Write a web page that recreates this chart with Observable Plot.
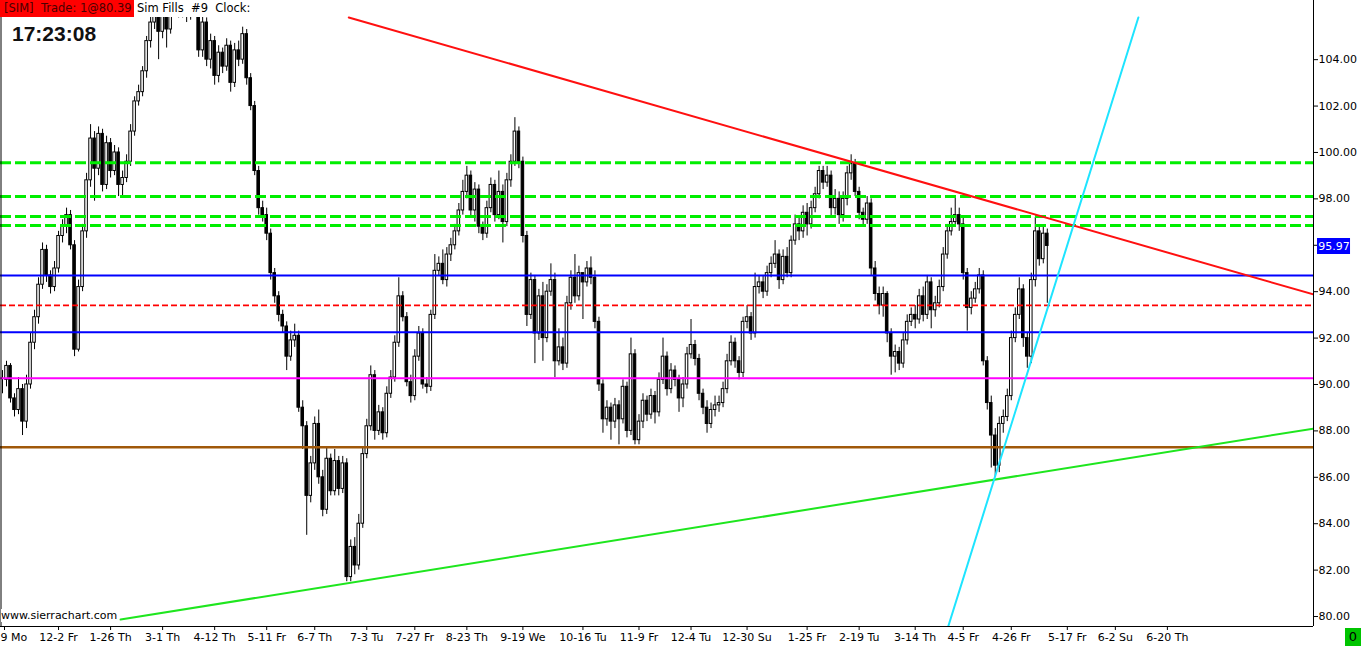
<!DOCTYPE html>
<html>
<head>
<meta charset="utf-8">
<script src="https://cdn.jsdelivr.net/npm/d3@7"></script>
<script src="https://cdn.jsdelivr.net/npm/@observablehq/plot@0.6"></script>
<style>
  body { margin: 0; background: white; overflow: hidden; }
  #wrap { position: relative; width: 1362px; height: 647px; font-family: "DejaVu Sans", sans-serif; }
  #chart svg { display: block; }
  .hdr { position: absolute; top: 0; height: 17px; line-height: 17px; font-size: 11.5px; white-space: pre; box-sizing: border-box; }
</style>
</head>
<body>
<div id="wrap">
  <div id="chart"></div>
  <div class="hdr" style="left:0;width:134px;background:#ff0000;color:#4a0000;padding-left:4px">[SIM]  Trade: 1@80.39</div>
  <div class="hdr" style="left:134px;width:116px;background:white;color:#000;padding-left:3px">Sim Fills  #9  Clock:</div>
  <div style="position:absolute;left:12px;top:22px;font:bold 21px 'Liberation Sans', Arial, sans-serif;color:#111">17:23:08</div>
  <div style="position:absolute;left:1px;top:609px;font-size:11px;background:white;color:#000;padding-right:2px">www.sierrachart.com</div>
  <div style="position:absolute;left:1345px;top:628px;width:16px;height:18px;line-height:18px;text-align:center;background:#00c400;color:#000;font-size:13px">0</div>
</div>
<script>
// one value per bar: close, high, low (open = previous close)
const closes = [
  90.2, 90.8, 89.4, 88.9, 89.8, 88.4, 90.0, 91.8, 92.9, 94.3,
  95.8, 94.7, 94.2, 95.0, 96.4, 96.8, 97.3, 96.0, 91.5, 94.2,
  96.6, 98.8, 100.6, 99.3, 100.8, 98.6, 100.4, 99.2, 100.0, 98.6,
  98.9, 99.6, 100.9, 102.2, 102.6, 103.5, 104.8, 105.6, 106.3, 105.2,
  105.9, 105.3, 106.2, 106.8, 106.0, 106.9, 105.9, 106.8, 106.2, 104.4,
  105.6, 104.0, 104.8, 103.3, 104.3, 103.7, 104.6, 103.0, 104.4, 104.0,
  105.1, 103.2, 102.0, 99.2, 97.6, 97.3, 96.5, 94.8, 93.8, 93.0,
  92.5, 91.2, 91.9, 92.1, 89.0, 88.2, 85.2, 86.6, 88.3, 86.0,
  84.6, 86.8, 85.4, 86.7, 85.5, 86.6, 81.7, 83.0, 82.2, 84.0,
  87.0, 88.2, 90.4, 88.0, 88.8, 87.9, 89.6, 90.3, 91.8, 93.8,
  92.9, 90.1, 89.5, 91.2, 92.2, 90.0, 89.9, 93.0, 94.9, 95.2,
  94.5, 95.6, 96.0, 96.6, 97.5, 98.3, 99.0, 97.5, 98.4, 96.8,
  96.5, 97.6, 98.6, 97.3, 98.3, 97.0, 98.8, 99.6, 100.9, 99.6,
  96.4, 93.0, 94.5, 92.2, 93.8, 92.0, 94.0, 94.5, 91.0, 91.6,
  90.9, 93.5, 94.6, 93.8, 94.8, 94.4, 95.0, 94.6, 92.7, 90.0,
  88.5, 89.0, 88.4, 89.1, 88.5, 89.9, 88.0, 91.3, 87.6, 88.4,
  89.3, 88.7, 89.5, 88.8, 90.2, 91.2, 89.8, 90.6, 90.2, 89.4,
  90.0, 91.3, 91.7, 91.1, 89.6, 89.0, 88.3, 88.9, 89.1, 89.2,
  89.8, 91.0, 91.8, 91.0, 90.5, 92.7, 92.9, 92.2, 94.2, 94.4,
  94.0, 94.8, 95.2, 95.6, 94.5, 95.5, 94.8, 96.2, 96.9, 96.6,
  97.4, 96.9, 97.6, 98.2, 99.2, 98.7, 99.0, 97.6, 98.0, 97.3,
  98.0, 99.1, 99.5, 98.3, 97.4, 97.1, 97.8, 95.0, 93.9, 93.4,
  93.9, 92.2, 91.2, 91.4, 90.9, 91.9, 92.7, 93.0, 92.8, 93.8,
  93.0, 94.4, 93.2, 93.5, 94.2, 95.6, 96.6, 97.0, 97.3, 96.9,
  94.8, 93.3, 93.7, 94.1, 94.7, 91.0, 89.2, 87.8, 86.5, 88.3,
  88.6, 89.5, 92.0, 93.0, 94.1, 92.0, 91.2, 94.5, 96.6, 95.4,
  96.5, 95.97
];
const highs = [
  90.6, 91.0, 90.9, 89.6, 90.3, 90.0, 90.4, 92.2, 93.2, 94.6,
  96.1, 96.0, 94.9, 95.3, 96.6, 97.1, 97.6, 97.5, 96.2, 94.5,
  96.9, 99.1, 101.2, 100.9, 101.1, 101.0, 100.7, 100.6, 100.3, 100.2,
  99.2, 99.9, 101.2, 102.4, 102.9, 103.7, 105.0, 105.9, 106.6, 106.5,
  106.2, 106.1, 106.5, 107.0, 107.0, 107.1, 107.0, 107.0, 107.0, 106.4,
  105.9, 105.8, 105.1, 105.0, 104.6, 104.5, 104.9, 104.8, 104.7, 104.8,
  105.4, 105.3, 103.4, 102.2, 99.4, 97.9, 97.6, 96.7, 95.0, 94.0,
  93.2, 92.7, 92.3, 92.6, 92.3, 89.3, 88.4, 86.9, 88.6, 88.9,
  86.3, 87.3, 87.0, 87.2, 86.9, 86.9, 86.8, 83.3, 83.4, 84.4,
  87.3, 88.5, 90.8, 90.6, 89.1, 89.0, 89.9, 90.6, 92.1, 94.6,
  94.0, 93.1, 90.4, 91.5, 92.5, 92.4, 90.3, 93.2, 95.6, 95.5,
  95.8, 95.9, 96.3, 96.9, 97.8, 98.8, 99.4, 99.2, 98.7, 98.6,
  97.0, 97.9, 98.9, 98.8, 99.2, 98.6, 99.1, 99.9, 101.5, 101.1,
  99.8, 96.6, 94.8, 94.7, 94.1, 94.4, 94.3, 95.2, 94.8, 92.4,
  92.0, 93.8, 94.9, 95.6, 95.1, 94.7, 95.3, 95.5, 94.9, 92.9,
  90.2, 89.3, 89.2, 89.4, 89.3, 90.2, 90.1, 92.0, 91.5, 88.7,
  89.6, 89.5, 89.8, 89.7, 90.5, 92.0, 91.4, 90.9, 90.8, 90.4,
  90.3, 91.6, 92.8, 91.9, 91.3, 89.8, 89.3, 89.2, 89.5, 89.5,
  90.1, 91.3, 92.1, 92.0, 91.2, 92.9, 93.4, 93.1, 94.8, 94.7,
  94.7, 95.1, 95.5, 96.2, 95.8, 95.8, 95.9, 96.4, 97.3, 97.2,
  97.7, 97.8, 97.9, 98.5, 99.4, 99.4, 99.4, 99.2, 98.4, 98.3,
  98.3, 99.4, 99.9, 99.7, 98.5, 97.6, 98.1, 98.0, 95.3, 94.2,
  94.2, 94.0, 92.4, 91.7, 91.6, 92.2, 93.0, 93.3, 93.4, 94.1,
  94.2, 94.7, 94.6, 93.8, 94.5, 95.9, 96.9, 97.6, 98.1, 97.6,
  97.2, 95.0, 94.0, 94.4, 95.0, 94.9, 91.2, 89.5, 88.1, 88.6,
  88.9, 89.8, 92.3, 93.3, 94.6, 94.3, 92.2, 94.8, 97.2, 96.8,
  96.8, 96.7
];
const lows = [
  89.6, 89.9, 89.2, 88.6, 88.7, 87.8, 88.1, 89.8, 91.5, 92.6,
  94.1, 94.4, 93.9, 94.0, 94.8, 96.1, 96.5, 95.8, 91.2, 91.4,
  94.0, 96.3, 98.5, 97.9, 99.0, 98.3, 98.4, 98.9, 99.0, 98.1,
  98.1, 98.7, 99.4, 100.7, 102.0, 102.4, 103.2, 104.5, 105.3, 104.0,
  104.9, 104.5, 105.1, 106.0, 105.8, 105.8, 105.6, 105.7, 106.0, 104.1,
  104.1, 103.7, 103.6, 102.9, 103.0, 103.4, 103.5, 102.6, 102.8, 103.7,
  103.8, 102.9, 101.8, 99.0, 97.3, 97.0, 96.2, 94.5, 93.5, 92.7,
  92.2, 90.6, 91.0, 91.6, 88.8, 87.2, 83.5, 84.9, 86.3, 85.7,
  84.3, 84.4, 85.2, 85.2, 85.2, 85.3, 81.5, 81.5, 81.8, 82.0,
  83.8, 86.8, 88.0, 87.6, 87.8, 87.6, 87.7, 89.4, 90.1, 91.6,
  92.7, 89.9, 89.2, 89.3, 91.0, 89.8, 89.6, 89.7, 92.8, 94.7,
  94.3, 94.2, 95.3, 95.8, 96.4, 97.3, 98.0, 97.2, 97.0, 96.5,
  96.2, 96.3, 97.4, 97.0, 97.1, 96.1, 96.8, 98.5, 99.4, 99.3,
  96.1, 92.5, 92.8, 90.9, 91.9, 91.0, 91.8, 93.8, 90.3, 90.8,
  90.6, 90.7, 93.2, 93.5, 93.6, 92.8, 94.2, 94.3, 92.4, 89.7,
  87.9, 88.2, 87.6, 88.1, 87.4, 88.3, 87.7, 87.8, 87.4, 87.4,
  88.1, 88.4, 88.5, 88.3, 88.6, 90.0, 89.5, 89.6, 89.9, 88.8,
  89.0, 89.8, 91.1, 90.8, 89.3, 88.7, 87.9, 88.1, 88.6, 88.8,
  89.0, 89.6, 90.8, 90.7, 90.2, 90.3, 92.4, 91.9, 92.0, 93.9,
  93.7, 93.8, 94.6, 95.0, 94.1, 94.3, 94.6, 94.6, 96.0, 96.2,
  96.3, 96.4, 96.7, 97.4, 98.0, 98.4, 98.5, 97.2, 97.3, 96.9,
  97.0, 97.7, 98.8, 98.1, 97.1, 96.8, 96.9, 94.7, 93.6, 93.0,
  92.9, 91.8, 90.4, 90.5, 90.6, 90.7, 91.7, 92.5, 92.4, 92.6,
  92.7, 92.8, 92.4, 92.9, 93.3, 94.0, 95.4, 96.4, 96.8, 96.6,
  94.5, 92.3, 93.0, 93.5, 93.9, 90.8, 88.9, 86.4, 86.0, 86.2,
  87.9, 88.4, 89.3, 91.8, 92.8, 91.6, 90.7, 90.9, 94.2, 95.1,
  95.2, 93.5
];

const tickBars = [0.5, 14, 27, 40, 53, 66, 78, 91, 103, 116, 130, 145, 159, 172, 186, 201, 214, 228, 240, 252, 266, 278, 291];
const tickLabels = ["9 Mo", "12-2 Fr", "1-26 Th", "3-1 Th", "4-12 Th", "5-11 Fr", "6-7 Th", "7-3 Tu",
  "7-27 Fr", "8-23 Th", "9-19 We", "10-16 Tu", "11-9 Fr", "12-4 Tu", "12-30 Su", "1-25 Fr", "2-19 Tu",
  "3-14 Th", "4-5 Fr", "4-26 Fr", "5-17 Fr", "6-2 Su", "6-20 Th"];
const priceTicks = [80, 82, 84, 86, 88, 90, 92, 94, 96, 98, 100, 102, 104];

// horizontal levels
const greenLevels = [99.56, 98.10, 97.24, 96.85];
const blueLevels = [94.70, 92.25];
const redLevels = [93.41];
const magentaLevels = [90.27];
const brownLevels = [87.30];

// trend lines (bar, price)
const resistance = [{bar: 86.5, price: 105.82}, {bar: 327.5, price: 93.88}];
const support = [{bar: 29.5, price: 79.87}, {bar: 327.5, price: 88.10}];
const uptrend = [{bar: 236.25, price: 79.57}, {bar: 283.75, price: 105.82}];

const lastPrice = 95.97;

const xMin = -0.5, xMax = 327.5;
const yMin = 79.57, yMax = 105.86, yTop = 106.55;

const bars = closes.map((c, i) => ({
  i,
  open: i > 0 ? closes[i - 1] : c,
  close: c,
  high: highs[i],
  low: lows[i]
}));
const labelOf = new Map(tickBars.map((b, i) => [b, tickLabels[i]]));

const level = (values, stroke, strokeWidth, dash) =>
  Plot.ruleY(values, {y: (d) => d, stroke, strokeWidth, strokeDasharray: dash});

const chart = Plot.plot({
  width: 1362,
  height: 647,
  marginLeft: 0,
  marginRight: 49,
  marginTop: 16,
  marginBottom: 21,
  style: {fontFamily: "DejaVu Sans", fontSize: "11px", color: "black", background: "white"},
  x: {domain: [xMin, xMax], axis: null},
  y: {domain: [yMin, yMax], axis: null},
  color: {type: "identity"},
  marks: [
    // wicks and candle bodies
    Plot.ruleX(bars, {x: "i", y1: "low", y2: "high", stroke: "black", strokeWidth: 1, clip: true}),
    Plot.rect(bars, {
      x1: (d) => d.i - 0.32,
      x2: (d) => d.i + 0.32,
      y1: "open",
      y2: "close",
      fill: (d) => (d.close >= d.open ? "white" : "black"),
      stroke: "black",
      strokeWidth: 1,
      clip: true
    }),

    level(brownLevels, "#a0580a", 2.5),
    level(magentaLevels, "#ff00ff", 2),
    level(blueLevels, "#0000ff", 2),
    level(redLevels, "#ff0000", 1.6, "6,3"),
    level(greenLevels, "#00ee00", 3, "11,4"),

    Plot.line(resistance, {x: "bar", y: "price", stroke: "#ff1010", strokeWidth: 2, clip: true}),
    Plot.line(support, {x: "bar", y: "price", stroke: "#1ee61e", strokeWidth: 2, clip: true}),
    Plot.line(uptrend, {x: "bar", y: "price", stroke: "#1ee4ff", strokeWidth: 2, clip: true}),

    // frame
    Plot.ruleY([yMin], {stroke: "black"}),
    Plot.ruleX([xMax], {y1: yMin, y2: yTop, stroke: "black"}),
    Plot.ruleX([xMin + 0.125], {y1: yMin, y2: yTop, stroke: "black"}),

    Plot.axisX(tickBars, {
      tickSize: 4,
      tickPadding: 3,
      tickFormat: (d, i) => (i === 0 ? "" : labelOf.get(d)),
      label: null
    }),
    // first date label sits at the left edge
    Plot.text([tickBars[0]], {
      x: xMin,
      y: yMin,
      dy: 7,
      lineAnchor: "top",
      textAnchor: "start",
      text: () => tickLabels[0]
    }),
    Plot.axisY(priceTicks, {
      anchor: "right",
      tickSize: 4,
      tickPadding: 1,
      tickFormat: (d) => d.toFixed(2),
      label: null
    }),

    // last price marker
    Plot.ruleY([lastPrice], {x1: 328.5, x2: 336.75, y: (d) => d, stroke: "#0000ff", strokeWidth: 16}),
    Plot.text([lastPrice], {x: 332.6, y: (d) => d, text: (d) => d.toFixed(2), fill: "white"})
  ]
});

document.querySelector("#chart").append(chart);
</script>
</body>
</html>
